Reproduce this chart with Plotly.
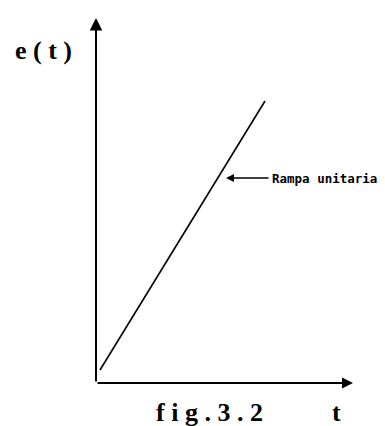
import plotly.graph_objects as go

# Data: a unit ramp e(t)
t_values = [0.04, 1.69]
e_values = [0.13, 2.82]

x_axis_end = 2.57
y_axis_end = 3.65

title_text = "fig.3.2"
x_label = "t"
y_label = "e(t)"
ramp_label = "Rampa unitaria"
ramp_label_point = (1.30, 2.05)


def spaced(s):
    return " ".join(s)


fig = go.Figure()
fig.add_trace(go.Scatter(
    x=t_values, y=e_values, mode="lines",
    line=dict(color="black", width=1.6),
    showlegend=False, hoverinfo="skip", cliponaxis=False,
))

annotations = [
    # y axis arrow
    dict(x=0, y=y_axis_end, ax=0, ay=0, xref="x", yref="y", axref="x", ayref="y",
         text="", showarrow=True, arrowhead=2, arrowsize=1.25, arrowwidth=2,
         arrowcolor="black", standoff=0, startstandoff=0),
    # x axis arrow
    dict(x=x_axis_end, y=0, ax=0, ay=0, xref="x", yref="y", axref="x", ayref="y",
         text="", showarrow=True, arrowhead=2, arrowsize=1.1, arrowwidth=2,
         arrowcolor="black", standoff=0, startstandoff=0),
    # ramp label arrow
    dict(x=ramp_label_point[0], y=ramp_label_point[1],
         ax=ramp_label_point[0] + 0.44, ay=ramp_label_point[1],
         xref="x", yref="y", axref="x", ayref="y",
         text="", showarrow=True, arrowhead=2, arrowsize=1.0, arrowwidth=1.6,
         arrowcolor="black", standoff=0, startstandoff=0),
    dict(x=(262 - 88) / 257, y=ramp_label_point[1] / y_axis_end, xref="paper", yref="paper",
         text="<b>" + ramp_label + "</b>", showarrow=False, xanchor="left", yanchor="middle",
         font=dict(family="DejaVu Sans Mono", size=12.5, color="black")),
    dict(x=-0.205, y=0.912, xref="paper", yref="paper", text="<b>" + spaced(y_label) + "</b>",
         showarrow=False, xanchor="center", yanchor="middle",
         font=dict(family="Liberation Serif", size=26, color="black")),
    dict(x=0.44, y=-0.082, xref="paper", yref="paper", text="<b>" + spaced(title_text) + "</b>",
         showarrow=False, xanchor="center", yanchor="middle",
         font=dict(family="Liberation Serif", size=26, color="black")),
    dict(x=0.934, y=-0.082, xref="paper", yref="paper", text="<b>" + x_label + "</b>",
         showarrow=False, xanchor="center", yanchor="middle",
         font=dict(family="Liberation Serif", size=26, color="black")),
]

fig.update_layout(
    width=385, height=426,
    margin=dict(l=88, r=40, t=10, b=51),
    paper_bgcolor="white", plot_bgcolor="white",
    xaxis=dict(range=[0, x_axis_end], showgrid=False, zeroline=False,
               showticklabels=False, showline=False, ticks=""),
    yaxis=dict(range=[0, y_axis_end], showgrid=False, zeroline=False,
               showticklabels=False, showline=False, ticks=""),
    annotations=annotations,
)

fig.write_html("out.html")
